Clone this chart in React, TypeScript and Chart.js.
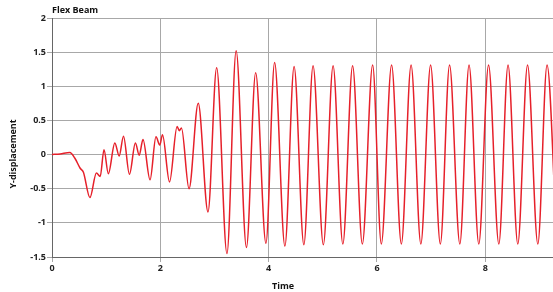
import React, { useEffect, useRef } from "react";
import { Chart, registerables } from "chart.js";

Chart.register(...registerables);

const chartTitle = "Flex Beam";
const xTitle = "Time";
const yTitle = "Y-displacement";
const xTickValues = [0, 2, 4, 6, 8];
const yTickValues = [-1.5, -1, -0.5, 0, 0.5, 1, 1.5, 2];

// Time samples (turning points & shoulders)
const times = [
  0, 0.15, 0.33, 0.42, 0.52, 0.58, 0.7, 0.82, 0.89, 0.96, 1.04, 1.16, 1.24, 1.32,
  1.43, 1.54, 1.61, 1.68, 1.81, 1.92, 1.99, 2.04, 2.17, 2.31, 2.35, 2.39, 2.53,
  2.7, 2.88, 3.04, 3.23, 3.4, 3.59, 3.76, 3.95, 4.11, 4.3, 4.47, 4.65, 4.82,
  5.01, 5.19, 5.37, 5.55, 5.73, 5.92, 6.08, 6.27, 6.45, 6.63, 6.81, 6.99, 7.17,
  7.34, 7.53, 7.7, 7.88, 8.06, 8.25, 8.42, 8.6, 8.78, 8.97, 9.14, 9.32,
];

// Y-displacement at those times
const disp = [
  0, 0.01, 0.03, -0.05, -0.2, -0.26, -0.63, -0.27, -0.32, 0.07, -0.28, 0.17,
  -0.02, 0.27, -0.29, 0.17, -0.01, 0.22, -0.37, 0.26, 0.14, 0.29, -0.4, 0.41,
  0.35, 0.39, -0.5, 0.75, -0.84, 1.27, -1.45, 1.52, -1.36, 1.2, -1.3, 1.35,
  -1.34, 1.29, -1.32, 1.3, -1.32, 1.3, -1.31, 1.3, -1.31, 1.31, -1.31, 1.31,
  -1.31, 1.31, -1.31, 1.31, -1.31, 1.31, -1.31, 1.31, -1.31, 1.31, -1.31, 1.31,
  -1.31, 1.31, -1.31, 1.31, -1.31,
];

const FONT = '"Open Sans", "DejaVu Sans", sans-serif';

const titlesPlugin = {
  id: "customTitles",
  afterDraw(chart: any) {
    const ctx = chart.ctx;
    const a = chart.chartArea;
    ctx.save();
    ctx.fillStyle = "#111";
    ctx.font = `bold 9px ${FONT}`;
    ctx.textBaseline = "middle";
    ctx.textAlign = "left";
    ctx.fillText(chartTitle, a.left, 10);
    ctx.textAlign = "center";
    ctx.fillText(xTitle, 283, 286);
    ctx.translate(13, 154);
    ctx.rotate(-Math.PI / 2);
    ctx.fillText(yTitle, 0, 0);
    ctx.restore();
  },
};

export default function App() {
  const ref = useRef<HTMLCanvasElement>(null);

  useEffect(() => {
    if (!ref.current) return;
    const points = times.map((t, i) => ({ x: t, y: disp[i] }));
    const chart = new Chart(ref.current, {
      type: "line",
      data: {
        datasets: [
          {
            data: points,
            borderColor: "#e6202a",
            borderWidth: 1.5,
            pointRadius: 0,
            cubicInterpolationMode: "monotone",
            fill: false,
          },
        ],
      },
      options: {
        animation: false,
        responsive: false,
        devicePixelRatio: 1,
        layout: { padding: { top: 18, left: 0, right: 0, bottom: 0 } },
        plugins: {
          legend: { display: false },
          tooltip: { enabled: false },
          title: { display: false },
        },
        scales: {
          x: {
            type: "linear",
            min: 0,
            max: 9.25,
            afterBuildTicks: (s: any) => {
              s.ticks = xTickValues.map((v) => ({ value: v }));
            },
            afterFit: (s: any) => {
              s.height = 35;
            },
            grid: { color: "#a8a8a8", lineWidth: 1, tickLength: 5 },
            border: { color: "#666", width: 1 },
            ticks: {
              color: "#222",
              font: { family: FONT, size: 9, weight: "bold" },
              padding: 1,
              maxRotation: 0,
            },
          },
          y: {
            type: "linear",
            min: -1.5,
            max: 2,
            afterBuildTicks: (s: any) => {
              s.ticks = yTickValues.map((v) => ({ value: v }));
            },
            afterFit: (s: any) => {
              s.width = 52;
            },
            grid: { color: "#a8a8a8", lineWidth: 1, tickLength: 5 },
            border: { color: "#666", width: 1 },
            ticks: {
              color: "#222",
              font: { family: FONT, size: 9, weight: "bold" },
              padding: 1,
              callback: (v: any) => String(v),
            },
          },
        },
      },
      plugins: [titlesPlugin],
    } as any);
    return () => chart.destroy();
  }, []);

  return (
    <div style={{ position: "fixed", left: 0, top: 0, width: 553, height: 292, background: "#fff" }}>
      <canvas ref={ref} width={553} height={292} />
    </div>
  );
}
